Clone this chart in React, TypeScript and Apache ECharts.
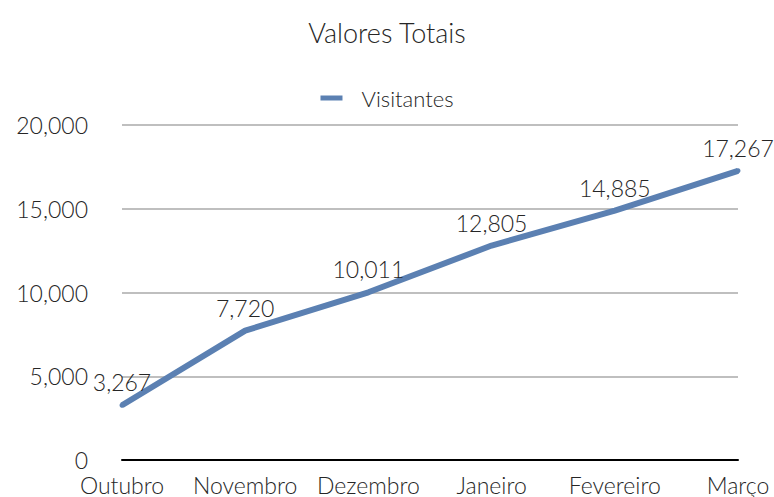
import React, { useEffect, useRef } from "react";
import * as echarts from "echarts";

const categories = ["Outubro", "Novembro", "Dezembro", "Janeiro", "Fevereiro", "Março"];
const visitantes = [3267, 7720, 10011, 12805, 14885, 17267];
const seriesName = "Visitantes";
const chartTitle = "Valores Totais";

const FONT = "Lato";
const TXT = "#262626";

export default function App() {
  const ref = useRef<HTMLDivElement>(null);
  useEffect(() => {
    if (!ref.current) return;
    const chart = echarts.init(ref.current, undefined, { renderer: "svg" });
    const fmt = (v: number) => v.toLocaleString("en-US");
    chart.setOption({
      animation: false,
      backgroundColor: "#ffffff",
      title: {
        text: chartTitle,
        left: "center",
        top: 14,
        textStyle: { fontFamily: FONT, fontWeight: 300, fontSize: 27, color: TXT },
      },
      legend: {
        top: 82,
        left: "center",
        icon: "rect",
        itemWidth: 22,
        itemHeight: 5,
        itemGap: 10,
        textStyle: {
          fontFamily: FONT,
          fontWeight: 300,
          fontSize: 22,
          color: TXT,
          padding: [0, 0, 0, 14],
        },
        data: [seriesName],
      },
      grid: { left: 122, right: 36, top: 125, bottom: 37, containLabel: false },
      xAxis: {
        type: "category",
        data: categories,
        boundaryGap: false,
        axisLine: { show: true, lineStyle: { color: "#000000", width: 2 } },
        axisTick: { show: false },
        axisLabel: {
          fontFamily: FONT,
          fontWeight: 300,
          fontSize: 23,
          color: TXT,
          margin: 13,
          interval: 0,
        },
      },
      yAxis: {
        type: "value",
        min: 0,
        max: 20000,
        interval: 5000,
        axisLine: { show: false },
        axisTick: { show: false },
        splitLine: { lineStyle: { color: "#bfbfbf", width: 2 } },
        axisLabel: {
          fontFamily: FONT,
          fontWeight: 300,
          fontSize: 23,
          color: TXT,
          margin: 34,
          formatter: (v: number) => fmt(v),
        },
      },
      series: [
        {
          name: seriesName,
          type: "line",
          data: visitantes,
          symbol: "circle",
          symbolSize: 5,
          itemStyle: { color: "#5b80b2", borderWidth: 0 },
          lineStyle: { color: "#5b80b2", width: 6 },
          label: {
            show: true,
            position: "top",
            distance: 9,
            fontFamily: FONT,
            fontWeight: 300,
            fontSize: 23,
            color: TXT,
            formatter: (p: any) => fmt(p.value),
          },
        },
      ],
    });
    return () => chart.dispose();
  }, []);
  return (
    <div
      ref={ref}
      style={{ position: "fixed", left: 0, top: 0, width: 774, height: 497 }}
    />
  );
}
